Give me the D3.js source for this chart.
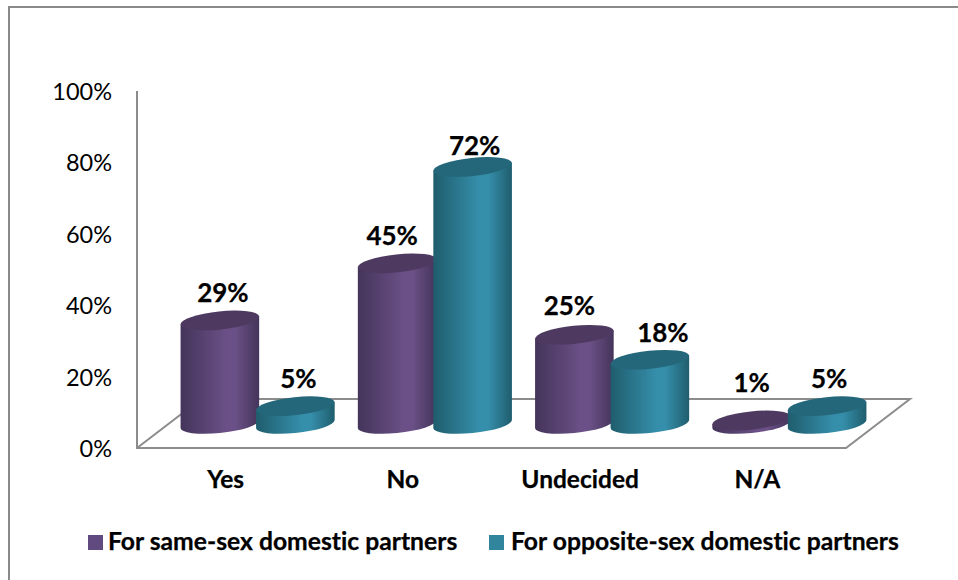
<!DOCTYPE html>
<html>
<head>
<meta charset="utf-8">
<script src="https://cdn.jsdelivr.net/npm/d3@7"></script>
<style>
  html, body { margin: 0; padding: 0; background: #fff; }
  svg { display: block; font-family: Lato, "Open Sans", sans-serif; font-variant-ligatures: none; }
</style>
</head>
<body>
<svg id="chart" width="958" height="580"></svg>
<script>
const categories = ["Yes", "No", "Undecided", "N/A"];
const seriesNames = ["For same-sex domestic partners", "For opposite-sex domestic partners"];
const sameSexValues = [29, 45, 25, 1];
const oppositeSexValues = [5, 72, 18, 5];
const yTicks = [0, 20, 40, 60, 80, 100];

const seriesStyles = [
  { edge: "#44345a", mid: "#6a5086", top: "#4e3a60", swatch: "#604a80" },
  { edge: "#1f5d6d", mid: "#358eaa", top: "#25677a", swatch: "#31859c" }
];

const svg = d3.select("#chart");

// Chart frame: only its top and left rules are inside the canvas
svg.append("path").attr("d", "M9,580V7H958")
  .attr("fill", "none").attr("stroke", "#8a8a8a").attr("stroke-width", 2);

// Projection of the 3D box: the back of the floor sits up and to the right of the front
const depthX = 64, depthY = -49;
const x = d3.scaleBand().domain(categories).range([137, 846]);
const y = d3.scaleLinear().domain([0, 100]).range([448, 91]);
const seriesX = d3.scaleBand().domain([0, 1]).range([-75.5, 75.5]);

// Gradients for the cylinder bodies
const defs = svg.append("defs");
seriesStyles.forEach((s, i) => {
  const g = defs.append("linearGradient").attr("id", "body" + i);
  [[0, s.edge], [0.58, s.mid], [0.7, s.mid], [1, s.edge]].forEach(([o, c]) =>
    g.append("stop").attr("offset", o).attr("stop-color", c));
});

// Floor and walls
const axisColor = "#8c8c8c";
const wall = svg.append("g").attr("fill", "none").attr("stroke", axisColor).attr("stroke-width", 2);
wall.append("path").attr("d", d3.line()([
  [x.range()[0], y(100)], [x.range()[0], y(0)], [x.range()[1], y(0)],
  [x.range()[1] + depthX, y(0) + depthY], [x.range()[0] + depthX, y(0) + depthY],
  [x.range()[0], y(0)]
]));

// Value axis labels
svg.append("g").selectAll("text").data(yTicks).join("text")
  .attr("x", 112).attr("y", d => y(d) + 0.5).attr("dy", "0.36em")
  .attr("text-anchor", "end").attr("font-size", 23.5).attr("fill", "#000")
  .text(d => d + "%");

// Category labels
svg.append("g").selectAll("text").data(categories).join("text")
  .attr("x", d => x(d) + x.bandwidth() / 2).attr("y", 488)
  .attr("text-anchor", "middle").attr("font-size", 24.5).attr("font-weight", 700)
  .attr("stroke", "#000").attr("stroke-width", 0.25)
  .text(d => d);

// Cylinders, drawn left to right
const rx = 39.5, ry = 9, tilt = -6;
const phi = tilt * Math.PI / 180;
const baseLift = 24;
const t0 = Math.atan(-(ry / rx) * Math.tan(phi));
const ex = rx * Math.cos(t0) * Math.cos(phi) - ry * Math.sin(t0) * Math.sin(phi);
const ey = rx * Math.cos(t0) * Math.sin(phi) + ry * Math.sin(t0) * Math.cos(phi);

const marks = categories.flatMap((c, i) => [
  { c, s: 0, v: sameSexValues[i] },
  { c, s: 1, v: oppositeSexValues[i] }
]);
const centerX = d => x(d.c) + x.bandwidth() / 2 + depthX / 2 + seriesX(d.s) + seriesX.bandwidth() / 2;
const baseY = y(0) - baseLift;
const topY = d => y(d.v) - baseLift;

const bars = svg.append("g").selectAll("g").data(marks).join("g");
bars.append("path")
  .attr("fill", d => `url(#body${d.s})`)
  .attr("d", d => {
    const cx = centerX(d);
    return `M${cx - ex},${topY(d) - ey}L${cx - ex},${baseY - ey}` +
      `A${rx},${ry} ${tilt} 0 0 ${cx + ex},${baseY + ey}` +
      `L${cx + ex},${topY(d) + ey}Z`;
  });
bars.append("ellipse")
  .attr("rx", rx).attr("ry", ry)
  .attr("fill", d => seriesStyles[d.s].top)
  .attr("transform", d => `translate(${centerX(d)},${topY(d)}) rotate(${tilt})`);

// Value labels above each cylinder, hand-placed per label to avoid collisions
const labelShift = [[3, 0], [3, 0], [-5, 0], [2, 6], [-5, -2], [13, 0], [0, -10], [2, 0]];
svg.append("g").selectAll("text").data(marks).join("text")
  .attr("x", (d, i) => centerX(d) + labelShift[i][0])
  .attr("y", (d, i) => topY(d) - 18 + labelShift[i][1])
  .attr("text-anchor", "middle").attr("font-size", 26).attr("font-weight", 700)
  .attr("stroke", "#000").attr("stroke-width", 0.25)
  .text(d => d.v + "%");

// Legend
const legendX = [88, 489];
const legend = svg.append("g").selectAll("g").data(seriesNames).join("g")
  .attr("transform", (d, i) => `translate(${legendX[i]},535)`);
legend.append("rect").attr("width", 15).attr("height", 15)
  .attr("fill", (d, i) => seriesStyles[i].swatch);
legend.append("text").attr("x", (d, i) => i ? 22 : 20).attr("y", 15)
  .attr("font-size", 24.7).attr("font-weight", 700)
  .attr("stroke", "#000").attr("stroke-width", 0.25)
  .text(d => d);
</script>
</body>
</html>
